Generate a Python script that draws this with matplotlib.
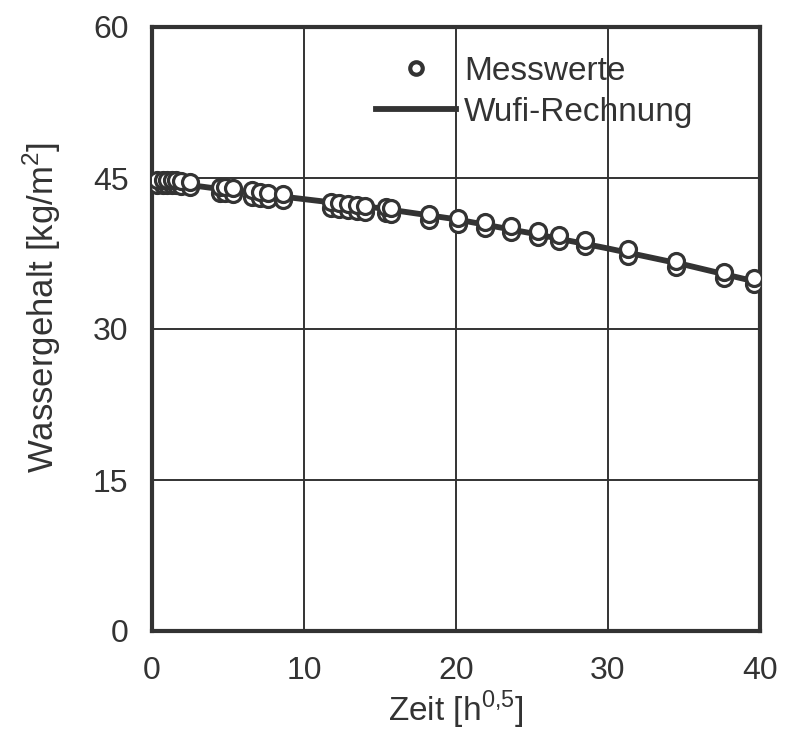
import numpy as np
import matplotlib.pyplot as plt

plt.rcParams['font.family'] = ['Liberation Sans', 'DejaVu Sans']

# Messwerte (jeweils zwei Proben pro Zeitpunkt)
zeit_mess = [0.3, 0.7, 1.0, 1.3, 1.6, 1.9, 2.5,
             4.5, 4.8, 5.3, 6.6, 7.1, 7.6, 8.6,
             11.8, 12.3, 12.9, 13.5, 14.0, 15.4, 15.7,
             18.2, 20.1, 21.9, 23.6, 25.4, 26.8, 28.5,
             31.3, 34.5, 37.6, 39.6]
wasser_oben = [44.8, 44.8, 44.8, 44.8, 44.8, 44.7, 44.6,
               44.1, 44.1, 44.0, 43.8, 43.6, 43.5, 43.4,
               42.6, 42.5, 42.4, 42.3, 42.2, 42.1, 42.0,
               41.4, 41.0, 40.6, 40.2, 39.7, 39.3, 38.8,
               37.9, 36.8, 35.7, 35.1]
wasser_unten = [44.3, 44.3, 44.3, 44.3, 44.3, 44.2, 44.1,
                43.5, 43.5, 43.4, 43.1, 43.0, 42.9, 42.8,
                42.0, 41.9, 41.8, 41.7, 41.6, 41.5, 41.4,
                40.8, 40.4, 40.0, 39.6, 39.1, 38.7, 38.2,
                37.3, 36.2, 35.1, 34.5]

# Wufi-Rechnung
zeit_wufi = [0, 2.5, 5, 10, 15, 20, 25, 30, 35, 40]
wasser_wufi = [44.6, 44.3, 43.8, 42.9, 42.0, 40.9, 39.5, 38.0, 36.4, 34.6]

dunkel = '#333333'

fig = plt.figure(figsize=(7.85, 7.32), dpi=100)
ax = fig.add_axes([152/785, 1 - 631/732, 608/785, 604/732])

ax.plot(zeit_wufi, wasser_wufi, color=dunkel, lw=4.2, zorder=3, label='Wufi-Rechnung')
ax.plot(zeit_mess, wasser_unten, 'o', ms=11.5, mfc='white', mec=dunkel, mew=2.3, zorder=4)
ax.plot(zeit_mess, wasser_oben, 'o', ms=11.5, mfc='white', mec=dunkel, mew=2.3, zorder=5,
        label='Messwerte')

ax.set_xlim(0, 40)
ax.set_ylim(0, 60)
ax.set_xticks([0, 10, 20, 30, 40])
ax.set_yticks([0, 15, 30, 45, 60])
ax.grid(True, color=dunkel, lw=1.4)
ax.set_axisbelow(True)
ax.tick_params(length=0, labelsize=23, colors=dunkel)
ax.tick_params(axis='x', pad=18)
ax.tick_params(axis='y', pad=17)
for s in ax.spines.values():
    s.set_linewidth(3)
    s.set_color(dunkel)

ax.set_xlabel(r'Zeit [h$^{\mathregular{0{,}5}}$]', fontsize=24, color=dunkel, labelpad=2)
ax.set_ylabel(r'Wassergehalt [kg/m$^{\mathregular{2}}$]', fontsize=25, color=dunkel)
ax.yaxis.set_label_coords(-0.146, 0.536)

h, l = ax.get_legend_handles_labels()
leg = ax.legend(h[::-1], l[::-1], loc='upper left', bbox_to_anchor=(0.368, 0.952),
                frameon=False, fontsize=24, handlelength=2.4, handletextpad=0.25,
                labelspacing=0.3, borderpad=0, borderaxespad=0)
for t in leg.get_texts():
    t.set_color(dunkel)
leg.legend_handles[0].set_markersize(9)
leg.legend_handles[0].set_markeredgewidth(3)

fig.savefig('out.png', dpi=100)
